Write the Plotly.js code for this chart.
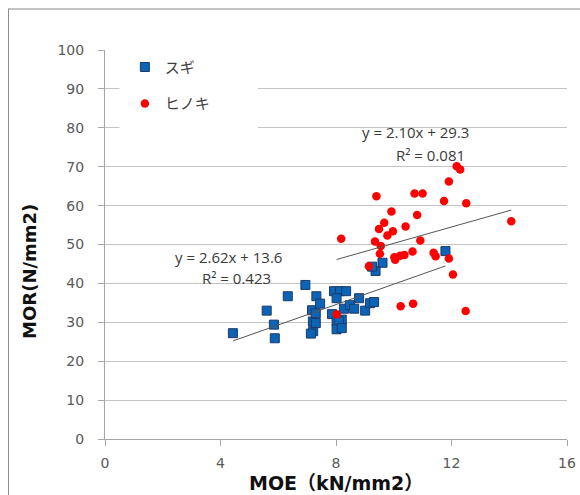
<!DOCTYPE html>
<html>
<head>
<meta charset="utf-8">
<script src="https://cdn.plot.ly/plotly-3.0.1.min.js"></script>
<style>
  html, body { margin: 0; padding: 0; background: #ffffff; }
  #frame { position: absolute; left: 8px; top: 8px; width: 700px; height: 600px;
           border-left: 1px solid #8c8c8c; border-top: 2px solid #c4c4c4; pointer-events: none; }
  #chart { position: absolute; left: 0; top: 0; width: 580px; height: 495px; }
</style>
</head>
<body>
<div id="chart"></div>
<div id="frame"></div>
<script>
// ---- data ----
const seriesNames = ["スギ", "ヒノキ"];

const sugiMOE = [4.43, 5.60, 5.85, 5.88, 6.33, 6.94, 7.17, 7.20, 7.21, 7.13, 7.30, 7.30, 7.32, 7.45,
                 7.93, 8.14, 8.35, 8.02, 7.86, 8.02, 8.20, 8.10, 8.02, 8.20, 8.28, 8.48, 8.63, 8.80,
                 9.01, 9.18, 9.32, 9.37, 9.61, 9.25, 11.79];
const sugiMOR = [27.2, 33.0, 29.4, 25.9, 36.7, 39.6, 33.1, 30.2, 27.7, 27.1, 32.3, 29.8, 36.7, 34.8,
                 38.0, 38.0, 38.0, 36.2, 32.1, 30.2, 30.7, 30.3, 28.2, 28.5, 33.5, 34.4, 33.5, 36.2,
                 33.0, 34.9, 35.2, 43.2, 45.3, 44.3, 48.3];

const hinokiMOE = [12.18, 12.30, 11.91, 9.40, 10.72, 11.00, 11.74, 12.51, 9.92, 10.81, 9.67, 9.49,
                   10.41, 9.97, 9.78, 14.07, 8.18, 9.35, 10.92, 9.55, 9.52, 10.02, 10.22, 10.37,
                   10.05, 10.65, 11.38, 11.45, 11.91, 12.05, 9.14, 10.24, 10.67, 12.49, 8.02];
const hinokiMOR = [70.1, 69.3, 66.2, 62.4, 63.1, 63.1, 61.2, 60.6, 58.5, 57.6, 55.6, 54.0,
                   54.6, 53.4, 52.3, 56.0, 51.5, 50.8, 51.0, 49.6, 47.6, 46.7, 47.1, 47.3,
                   46.1, 48.2, 47.9, 47.0, 46.4, 42.3, 44.4, 34.1, 34.8, 32.9, 32.1];

// trend line coefficients [slope, intercept, R²] as printed on the chart
const sugiFit = [2.62, 13.6, 0.423];
const hinokiFit = [2.10, 29.3, 0.081];

const xTicks = [0, 4, 8, 12, 16];
const yTicks = [0, 10, 20, 30, 40, 50, 60, 70, 80, 90, 100];

// ---- build ----
function fitLine(xs, fit) {
  const x0 = Math.min(...xs), x1 = Math.max(...xs);
  return { x: [x0, x1], y: [fit[0] * x0 + fit[1], fit[0] * x1 + fit[1]] };
}
function eqText(fit) {
  return "y = " + fit[0].toFixed(2) + "x + " + fit[1].toFixed(1);
}
function r2Text(fit) {
  return "R² = " + fit[2].toFixed(3);
}

const sugiLine = fitLine(sugiMOE, sugiFit);
const hinokiLine = fitLine(hinokiMOE, hinokiFit);

const traces = [
  { x: sugiMOE, y: sugiMOR, type: "scatter", mode: "markers", name: seriesNames[0],
    legendgroup: "a",
    marker: { symbol: "square", size: 9, color: "#0c64b6", line: { color: "#1c3a68", width: 1 } } },
  { x: hinokiMOE, y: hinokiMOR, type: "scatter", mode: "markers", name: seriesNames[1],
    legendgroup: "b",
    marker: { symbol: "circle", size: 8.5, color: "#ff0000", line: { width: 0 } } },
  { x: sugiLine.x, y: sugiLine.y, type: "scatter", mode: "lines", showlegend: false,
    hoverinfo: "skip", line: { color: "#555555", width: 1 } },
  { x: hinokiLine.x, y: hinokiLine.y, type: "scatter", mode: "lines", showlegend: false,
    hoverinfo: "skip", line: { color: "#555555", width: 1 } }
];

const annFont = { family: "Open Sans, Liberation Sans, sans-serif", size: 15, color: "#3a3a3a" };

const layout = {
  width: 580, height: 495,
  margin: { l: 105, r: 13, t: 50, b: 56 },
  paper_bgcolor: "#ffffff", plot_bgcolor: "#ffffff",
  showlegend: true,
  legend: {
    x: 0.043, y: 0.998, xanchor: "left", yanchor: "top",
    bgcolor: "rgba(0,0,0,0)",
    font: { family: "Noto Sans CJK JP, sans-serif", size: 15, color: "#404040" },
    traceorder: "grouped", tracegroupgap: 14
  },
  xaxis: {
    range: [0, 16], tickvals: xTicks, ticktext: xTicks.map(String),
    showgrid: false, zeroline: false,
    showline: true, linecolor: "#a6a6a6", linewidth: 1,
    ticks: "outside", ticklen: 6, tickcolor: "#a6a6a6",
    ticklabelstandoff: 5,
    tickfont: { family: "DejaVu Sans, sans-serif", size: 14, color: "#595959" }
  },
  yaxis: {
    range: [0, 100], tickvals: yTicks, ticktext: yTicks.map(String),
    showgrid: true, gridcolor: "#c4c4c4", gridwidth: 1, zeroline: false,
    showline: true, linecolor: "#a6a6a6", linewidth: 1,
    ticks: "outside", ticklen: 6, tickcolor: "#a6a6a6",
    ticklabelstandoff: 11,
    tickfont: { family: "DejaVu Sans, sans-serif", size: 14, color: "#595959" }
  },
  shapes: [
    { type: "rect", xref: "x", yref: "y", x0: 0.5, x1: 5.3, y0: 79.6, y1: 99.4,
      fillcolor: "#ffffff", line: { width: 0 }, layer: "between" }
  ],
  annotations: [
    { text: eqText(hinokiFit), x: 10.74, y: 78.9, xref: "x", yref: "y", showarrow: false, font: annFont },
    { text: r2Text(hinokiFit), x: 11.26, y: 72.9, xref: "x", yref: "y", showarrow: false, font: annFont },
    { text: eqText(sugiFit), x: 4.26, y: 46.8, xref: "x", yref: "y", showarrow: false, font: annFont },
    { text: r2Text(sugiFit), x: 4.54, y: 41.4, xref: "x", yref: "y", showarrow: false, font: annFont },
    { text: "MOR(N/mm2)", xref: "paper", yref: "y", x: -0.162, y: 43, textangle: -90,
      xanchor: "center", yanchor: "middle",
      showarrow: false, font: { family: "DejaVu Sans, sans-serif", size: 18, color: "#111111", weight: "bold" } },
    { text: "MOE（kN/mm2）", xref: "x", yref: "paper", x: 8, y: -0.112,
      xanchor: "center", yanchor: "middle",
      showarrow: false, font: { family: "DejaVu Sans, Noto Sans CJK JP, sans-serif", size: 19, color: "#111111", weight: "bold" } }
  ]
};

Plotly.newPlot("chart", traces, layout, { displayModeBar: false, staticPlot: true });
</script>
</body>
</html>
